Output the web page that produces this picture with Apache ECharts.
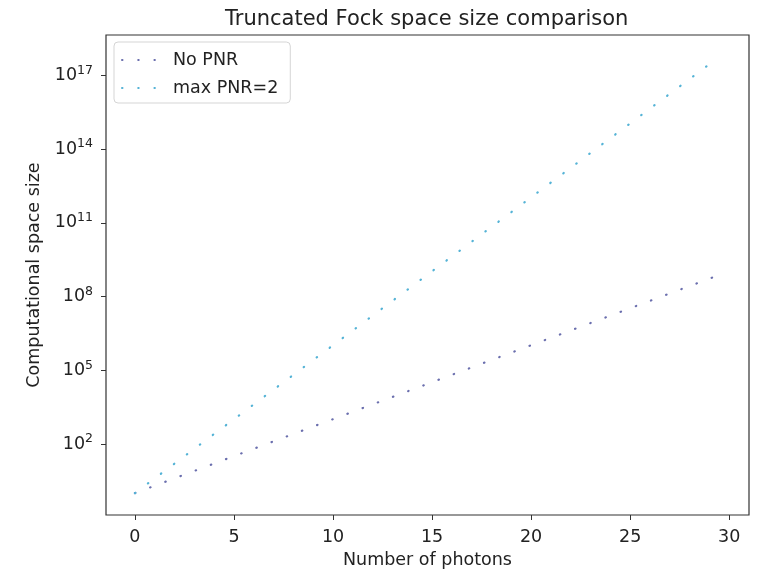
<!DOCTYPE html>
<html>
<head>
<meta charset="utf-8">
<script src="https://cdn.jsdelivr.net/npm/echarts@6/dist/echarts.min.js"></script>
<style>
  html, body { margin: 0; padding: 0; background: #fff; }
  #chart { width: 759px; height: 570px; }
</style>
</head>
<body>
<div id="chart"></div>
<script>
// photon counts on the x axis (the curves run on a little past 29)
var photons = [0, 1, 2, 3, 4, 5, 6, 7, 8, 9, 10, 11, 12, 13, 14, 15, 16, 17, 18, 19, 20, 21, 22, 23, 24, 25, 26, 27, 28, 29, 29.4];

// space size without photon number resolution
var noPnr = [1, 2, 4, 8, 16, 32, 64, 128, 256, 512, 1024, 2048, 4096, 8192, 16384, 32768,
  65536, 131072, 262144, 524288, 1048576, 2097152, 4194304, 8388608, 16777216, 33554432,
  67108864, 134217728, 268435456, 536870912, 708400000];

// space size with max PNR = 2
var maxPnr2 = [1, 4, 16, 64, 256, 1024, 4096, 16384, 65536, 262144, 1048576, 4194304,
  16777216, 67108864, 268435456, 1073741824, 4294967296, 17179869184, 68719476736,
  274877906944, 1099511627776, 4398046511104, 17592186044416, 70368744177664,
  281474976710656, 1125899906842624, 4503599627370496, 18014398509481984,
  72057594037927936, 288230376151711744, 501800000000000000];

// tick labels
var xTicks = [0, 5, 10, 15, 20, 25, 30];
var yTicks = [1e2, 1e5, 1e8, 1e11, 1e14, 1e17];

var font = 'DejaVu Sans';
var ink = '#222';

function pairs(xs, ys) {
  return xs.map(function (x, i) { return [x, ys[i]]; });
}

var chart = echarts.init(document.getElementById('chart'));

chart.setOption({
  animation: false,
  backgroundColor: '#fff',
  title: {
    text: 'Truncated Fock space size comparison',
    left: 220,
    top: 4,
    textStyle: { fontFamily: font, fontSize: 21, fontWeight: 'normal', color: ink }
  },
  legend: {
    orient: 'vertical',
    left: 114,
    top: 42,
    padding: [8, 12, 5, 7],
    itemGap: 8,
    itemWidth: 46,
    itemHeight: 14,
    borderColor: '#d5d5d5',
    borderWidth: 1,
    borderRadius: 4,
    backgroundColor: '#fff',
    itemStyle: { opacity: 0 },
    textStyle: { fontFamily: font, fontSize: 17.5, color: ink, lineHeight: 20 },
    data: ['No PNR', 'max PNR=2']
  },
  grid: {
    left: 106,
    right: 10,
    top: 35,
    bottom: 55,
    outerBoundsMode: 'none',
    show: true,
    borderColor: '#333',
    borderWidth: 1.2,
    backgroundColor: 'transparent'
  },
  xAxis: {
    type: 'value',
    min: -1.46,
    max: 31,
    name: 'Number of photons',
    nameLocation: 'middle',
    nameGap: 36,
    nameTextStyle: { fontFamily: font, fontSize: 17.5, color: ink },
    axisLine: { show: false, onZero: false },
    splitLine: { show: false },
    axisTick: { show: true, length: 5, lineStyle: { color: '#333' }, customValues: xTicks },
    axisLabel: {
      fontFamily: font, fontSize: 17.5, color: ink, margin: 13,
      customValues: xTicks
    }
  },
  yAxis: {
    type: 'log',
    logBase: 10,
    min: Math.pow(10, -0.89),
    max: Math.pow(10, 18.65),
    name: 'Computational space size',
    nameLocation: 'middle',
    nameGap: 62,
    nameTextStyle: { fontFamily: font, fontSize: 17.5, color: ink },
    axisLine: { show: false, onZero: false },
    splitLine: { show: false },
    minorSplitLine: { show: false },
    axisTick: { show: true, length: 5, lineStyle: { color: '#333' }, customValues: yTicks },
    axisLabel: {
      margin: 13,
      customValues: yTicks,
      formatter: function (v) {
        var e = Math.round(Math.log10(v));
        return '{b|10}{s|' + e + '}';
      },
      rich: {
        b: { fontFamily: font, fontSize: 17.5, color: ink },
        s: { fontFamily: font, fontSize: 12.5, color: ink, padding: [0, 0, 10, 0] }
      }
    }
  },
  series: [
    {
      name: 'No PNR',
      type: 'line',
      data: pairs(photons, noPnr),
      showSymbol: false,
      symbol: 'none',
      color: '#6b6fae',
      lineStyle: { width: 2.2, type: [0.5, 15.7], cap: 'round', color: '#6b6fae' }
    },
    {
      name: 'max PNR=2',
      type: 'line',
      data: pairs(photons, maxPnr2),
      showSymbol: false,
      symbol: 'none',
      color: '#55b3d6',
      lineStyle: { width: 2.2, type: [0.5, 15.7], cap: 'round', color: '#55b3d6' }
    }
  ]
});
</script>
</body>
</html>
